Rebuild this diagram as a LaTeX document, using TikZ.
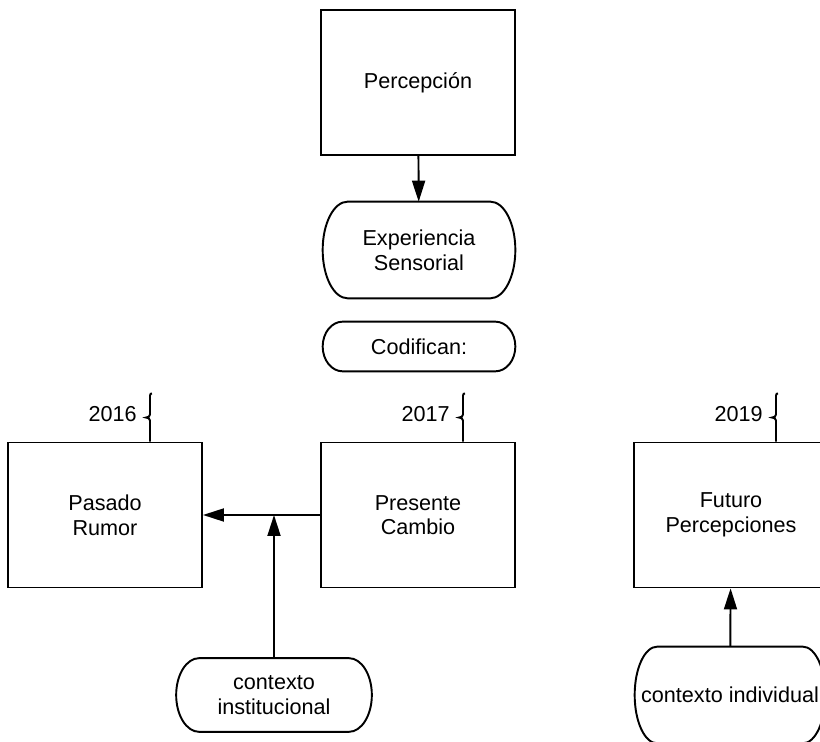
\documentclass[tikz,border=0pt]{standalone}
\usepackage{fontspec}
\setmainfont{Liberation Sans}
\usetikzlibrary{%
arrows.meta,%
calc}

\tikzset{
  txt/.style={align=center,inner sep=0pt,font=\fontsize{12.3}{14}\selectfont},
  box/.style={txt,draw,line width=1.1pt,minimum width=3.88cm,minimum height=2.9cm},
  term/.style={txt,minimum width=#1},
  link/.style={line width=1.1pt,-{Triangle[length=4.2mm,width=2.6mm]}}
}

% outline of a terminator node: flat top and bottom, elliptic ends
\newcommand{\termline}[2]{%
  \draw[line width=1.1pt] let \p1=(#1.north west), \p2=(#1.south east), \n1={(\y1-\y2)/2} in
    (\x1+#2,\y1) -- (\x2-#2,\y1) arc[start angle=90,end angle=-90,x radius=#2,y radius=\n1]
    -- (\x1+#2,\y2) arc[start angle=270,end angle=90,x radius=#2,y radius=\n1] -- cycle;}

% year with its brace on top of a box
\newcommand{\yearbrace}[3]{%
  \draw[line width=1.1pt] ($(#1.north)+(45,0)$) coordinate (#2) -- ++(0,21)
    .. controls +(0,2) and +(2,0) .. ++(-4,3)
    .. controls +(2,0) and +(0,-2) .. ++(4,3) -- ++(0,19)
    .. controls +(0,2) and +(-1,0) .. ++(2,2);
  \node[txt,anchor=east] (#2y) at ($(#2)+(-13,27)$) {#3};}

\begin{document}
\begin{tikzpicture}[x=0.02cm,y=0.02cm]
\useasboundingbox (0,0) rectangle (820,742);

\node[box] (perc) at (418,659.5) {Percepción};
\node[term=3.84cm,minimum height=1.92cm] (exp) at (419,492) {Experiencia\\Sensorial};
\node[term=3.84cm,minimum height=0.98cm] (cod) at (419,395.5) {Codifican:};
\termline{exp}{0.5cm}
\termline{cod}{0.4cm}

\node[box] (pas) at (105,227) {Pasado\\Rumor};
\node[box] (pre) at (418,227) {Presente\\Cambio};
\node[box] (fut) at (731,227) {Futuro\\Percepciones};

\yearbrace{pas}{b16}{2016}
\yearbrace{pre}{b17}{2017}
\yearbrace{fut}{b19}{2019}

\node[term=3.9cm,minimum height=1.46cm] (inst) at (274,47) {contexto\\institucional};
\node[term=3.8cm,minimum height=1.92cm] (ind) at (730,47) {contexto individual};
\termline{inst}{0.46cm}
\termline{ind}{0.45cm}

\coordinate (junc) at (inst.north |- pre.west);
\draw[link] (perc) -- (exp);
\draw[link] (pre) -- (pas);
\draw[link] (inst) -- (junc);
\draw[link] (ind) -- (fut);
\end{tikzpicture}
\end{document}
